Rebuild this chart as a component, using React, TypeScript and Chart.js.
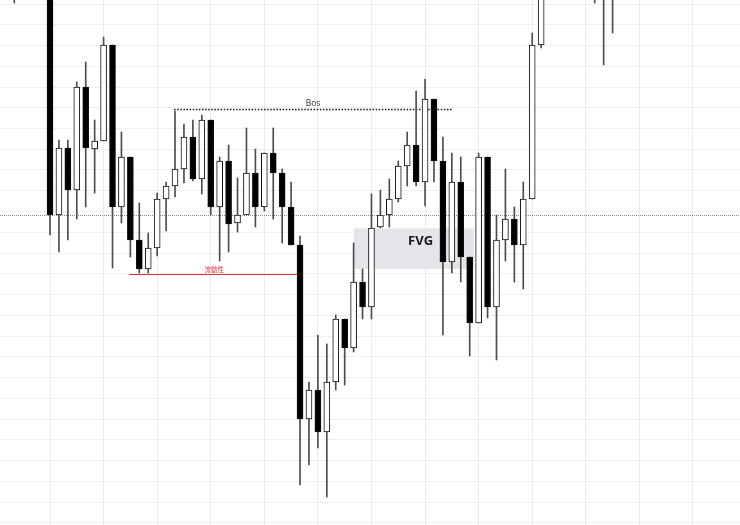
import React, { useEffect, useRef } from "react";
import { Chart, registerables } from "chart.js";

Chart.register(...registerables);

// Candle index (bar number) and OHLC prices
const CANDLE_INDEX = [-4, 0, 1, 2, 3, 4, 5, 6, 7, 8, 9, 10, 11, 12, 13, 14, 15, 16, 17, 18, 19, 20, 21, 22, 23, 24, 25, 26, 27, 28, 29, 30, 31, 32, 33, 34, 35, 36, 37, 38, 39, 40, 41, 42, 43, 44, 45, 46, 47, 48, 49, 50, 51, 52, 53, 54, 55, 61, 62, 63];
const OPEN = [565, 545, 310, 377, 335, 438, 376, 384, 480, 318, 368, 285, 256, 277, 326, 339, 356, 388, 346, 405, 318, 364, 302, 310, 352, 318, 372, 352, 318, 280, 106, 135, 93, 143, 206, 177, 243, 218, 298, 310, 326, 359, 380, 343, 426, 364, 263, 343, 268, 202, 368, 218, 285, 306, 280, 326, 480, 540, 550, 540];
const HIGH = [575, 550, 385, 385, 443, 463, 405, 488, 480, 393, 368, 322, 292, 332, 343, 414, 401, 405, 410, 405, 368, 380, 347, 397, 376, 372, 397, 356, 343, 289, 143, 190, 181, 210, 206, 282, 256, 331, 335, 346, 364, 393, 434, 446, 426, 388, 372, 368, 268, 372, 368, 310, 356, 318, 343, 492, 555, 575, 580, 585];
const LOW = [522, 290, 273, 285, 306, 318, 332, 384, 257, 302, 268, 252, 252, 269, 294, 328, 342, 344, 331, 310, 264, 273, 293, 310, 298, 314, 306, 282, 280, 40, 60, 77, 28, 135, 140, 173, 206, 206, 297, 298, 323, 339, 339, 319, 343, 190, 252, 243, 169, 202, 207, 165, 264, 243, 236, 326, 477, 522, 460, 492];
const CLOSE = [540, 310, 377, 335, 438, 377, 384, 480, 318, 368, 285, 256, 277, 326, 339, 356, 388, 346, 405, 318, 364, 301, 310, 352, 318, 372, 352, 318, 280, 106, 135, 93, 143, 206, 177, 243, 218, 297, 310, 326, 359, 380, 343, 426, 364, 263, 343, 268, 202, 368, 218, 285, 306, 280, 326, 480, 545, 560, 535, 560];

// Annotation levels (price) and spans (bar index)
const LAST_PRICE_LEVEL = 310;
const BOS_LEVEL = 416.3;
const BOS_SPAN = [13.9, 45];
const BOS_LABEL = "Bos";
const BOS_LABEL_AT = 29.45;
const LIQ_LEVEL = 250.7;
const LIQ_SPAN = [8.88, 27.65];
const LIQ_LABEL = "流動性";
const LIQ_LABEL_AT = 18.4;
const FVG_SPAN = [34.04, 47.48];
const FVG_RANGE = [256, 296.7];
const FVG_LABEL = "FVG";
const FVG_LABEL_AT = [41.5, 283.3];

// Visible window and grid
const X_RANGE = [-5.6, 77.27];
const Y_RANGE = [0, 525];
const X_GRID_STEP = 6;
const Y_GRID_BASE = 2.25;
const Y_GRID_STEP = 20.75;

const annotationPlugin = {
  id: "annotations",
  beforeDatasetsDraw(chart: any) {
    const { ctx, scales, chartArea } = chart;
    const x = scales.x;
    const y = scales.y;
    ctx.save();
    // FVG zone
    const fx0 = x.getPixelForValue(FVG_SPAN[0]);
    const fx1 = x.getPixelForValue(FVG_SPAN[1]);
    const fy0 = y.getPixelForValue(FVG_RANGE[1]);
    const fy1 = y.getPixelForValue(FVG_RANGE[0]);
    ctx.fillStyle = "#e3e5e9";
    ctx.fillRect(fx0, fy0, fx1 - fx0, fy1 - fy0);

    // last price dotted line
    const ly = Math.round(y.getPixelForValue(LAST_PRICE_LEVEL)) + 0.5;
    ctx.strokeStyle = "#8a8a8a";
    ctx.lineWidth = 1;
    ctx.setLineDash([1, 1]);
    ctx.beginPath();
    ctx.moveTo(chartArea.left, ly);
    ctx.lineTo(chartArea.right, ly);
    ctx.stroke();

    // BOS dotted line
    const by = Math.round(y.getPixelForValue(BOS_LEVEL)) + 0.5;
    ctx.strokeStyle = "#1a1a1a";
    ctx.lineWidth = 1.3;
    ctx.setLineDash([1.5, 1.6]);
    ctx.beginPath();
    ctx.moveTo(x.getPixelForValue(BOS_SPAN[0]), by);
    ctx.lineTo(x.getPixelForValue(BOS_SPAN[1]), by);
    ctx.stroke();

    // liquidity line
    const qy = Math.round(y.getPixelForValue(LIQ_LEVEL)) + 0.5;
    ctx.setLineDash([]);
    ctx.strokeStyle = "#e2313a";
    ctx.lineWidth = 1.2;
    ctx.beginPath();
    ctx.moveTo(x.getPixelForValue(LIQ_SPAN[0]), qy);
    ctx.lineTo(x.getPixelForValue(LIQ_SPAN[1]), qy);
    ctx.stroke();

    // labels of lines
    ctx.textAlign = "center";
    ctx.textBaseline = "bottom";
    ctx.fillStyle = "#2e2e2e";
    ctx.font = '8.5px "Open Sans"';
    ctx.fillText(BOS_LABEL, x.getPixelForValue(BOS_LABEL_AT), by - 1.5);
    ctx.fillStyle = "#e2313a";
    ctx.font = '6.5px "Noto Sans CJK TC"';
    ctx.fillText(LIQ_LABEL, x.getPixelForValue(LIQ_LABEL_AT), qy - 1.5);
    ctx.restore();
  },
  afterDatasetsDraw(chart: any) {
    const { ctx, scales } = chart;
    ctx.save();
    ctx.fillStyle = "#1a1a1a";
    ctx.font = 'bold 13px "Open Sans"';
    ctx.textAlign = "center";
    ctx.textBaseline = "middle";
    ctx.fillText(
      FVG_LABEL,
      scales.x.getPixelForValue(FVG_LABEL_AT[0]),
      scales.y.getPixelForValue(FVG_LABEL_AT[1])
    );
    ctx.restore();
  },
};

export default function App() {
  const canvasRef = useRef<HTMLCanvasElement | null>(null);

  useEffect(() => {
    const canvas = canvasRef.current;
    if (!canvas) return;

    const bodies = CANDLE_INDEX.map((i, k) => ({ x: i, y: [OPEN[k], CLOSE[k]] }));
    const wicks = CANDLE_INDEX.map((i, k) => ({ x: i, y: [LOW[k], HIGH[k]] }));
    const bodyColors = CANDLE_INDEX.map((_, k) => (CLOSE[k] > OPEN[k] ? "#ffffff" : "#000000"));

    const chart = new Chart(canvas, {
      type: "bar",
      data: {
        datasets: [
          {
            label: "body",
            data: bodies as any,
            backgroundColor: bodyColors,
            borderColor: "#111111",
            borderWidth: 1,
            borderSkipped: false,
            barThickness: 6,
            grouped: false,
            order: 0,
          } as any,
          {
            label: "wick",
            data: wicks as any,
            backgroundColor: "#4d4d4d",
            borderWidth: 0,
            barThickness: 1,
            grouped: false,
            order: 1,
          } as any,
        ],
      },
      options: {
        responsive: false,
        animation: false,
        events: [],
        devicePixelRatio: 1,
        layout: { padding: 0 },
        plugins: { legend: { display: false }, tooltip: { enabled: false } },
        scales: {
          x: {
            type: "linear",
            min: X_RANGE[0],
            max: X_RANGE[1],
            offset: false,
            afterBuildTicks: (axis: any) => {
              const t = [];
              for (let v = Math.ceil(X_RANGE[0] / X_GRID_STEP) * X_GRID_STEP; v < X_RANGE[1]; v += X_GRID_STEP) {
                t.push({ value: v });
              }
              axis.ticks = t;
            },
            ticks: { display: false },
            grid: { color: "#ececec", lineWidth: 1, drawTicks: false, offset: false },
            border: { display: false },
          },
          y: {
            type: "linear",
            min: Y_RANGE[0],
            max: Y_RANGE[1],
            afterBuildTicks: (axis: any) => {
              const t = [];
              for (let v = Y_GRID_BASE; v < Y_RANGE[1]; v += Y_GRID_STEP) {
                t.push({ value: v });
              }
              axis.ticks = t;
            },
            ticks: { display: false },
            grid: { color: "#efefef", lineWidth: 1, drawTicks: false },
            border: { display: false },
          },
        },
      } as any,
      plugins: [annotationPlugin],
    });

    return () => chart.destroy();
  }, []);

  return (
    <div style={{ position: "fixed", left: 0, top: 0, width: 740, height: 525, background: "#ffffff" }}>
      <canvas ref={canvasRef} width={740} height={525} style={{ display: "block" }} />
    </div>
  );
}
